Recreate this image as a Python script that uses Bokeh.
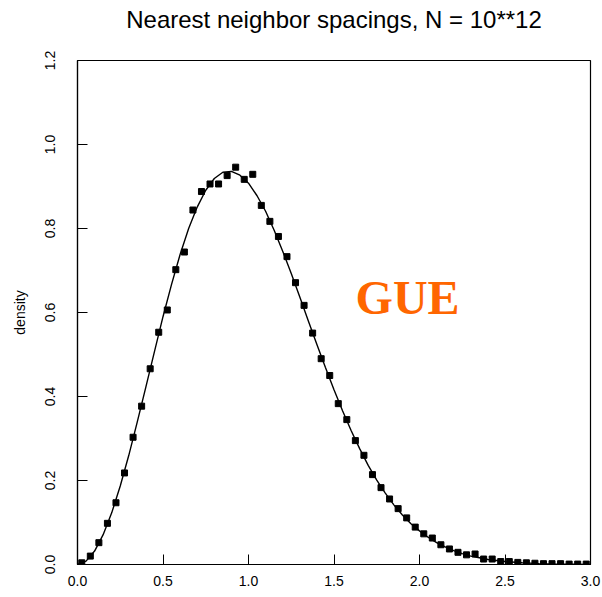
from bokeh.plotting import figure
from bokeh.models import Range1d, FixedTicker, PrintfTickFormatter, Label, LinearAxis
from bokeh.embed import file_html
from bokeh.resources import INLINE

# Curve (GUE spacing density)
curve_x = [0.00, 0.05, 0.10, 0.15, 0.20, 0.25, 0.30, 0.35, 0.40, 0.45,
           0.50, 0.55, 0.60, 0.65, 0.70, 0.75, 0.80, 0.85, 0.90, 0.95,
           1.00, 1.05, 1.10, 1.15, 1.20, 1.25, 1.30, 1.35, 1.40, 1.45,
           1.50, 1.55, 1.60, 1.65, 1.70, 1.75, 1.80, 1.85, 1.90, 1.95,
           2.00, 2.05, 2.10, 2.15, 2.20, 2.25, 2.30, 2.35, 2.40, 2.50,
           2.60, 2.70, 2.80, 2.90, 3.00]
curve_y = [0.000, 0.008, 0.032, 0.071, 0.123, 0.187, 0.260, 0.340, 0.423, 0.507,
           0.590, 0.667, 0.738, 0.800, 0.851, 0.891, 0.919, 0.934, 0.936, 0.927,
           0.908, 0.878, 0.841, 0.796, 0.746, 0.693, 0.637, 0.580, 0.524, 0.469,
           0.416, 0.366, 0.319, 0.276, 0.236, 0.201, 0.170, 0.142, 0.118, 0.097,
           0.080, 0.065, 0.052, 0.042, 0.033, 0.026, 0.020, 0.016, 0.012, 0.007,
           0.004, 0.002, 0.001, 0.001, 0.000]

# Empirical histogram points (bin centres and densities)
pts_x = [0.025, 0.075, 0.125, 0.175, 0.225, 0.275, 0.325, 0.375, 0.425, 0.475,
         0.525, 0.575, 0.625, 0.675, 0.725, 0.775, 0.825, 0.875, 0.925, 0.975,
         1.025, 1.075, 1.125, 1.175, 1.225, 1.275, 1.325, 1.375, 1.425, 1.475,
         1.525, 1.575, 1.625, 1.675, 1.725, 1.775, 1.825, 1.875, 1.925, 1.975,
         2.025, 2.075, 2.125, 2.175, 2.225, 2.275, 2.325, 2.375, 2.425, 2.475,
         2.525, 2.575, 2.625, 2.675, 2.725, 2.775, 2.825, 2.875, 2.925, 2.975]
pts_y = [0.004, 0.020, 0.052, 0.098, 0.147, 0.218, 0.303, 0.377, 0.466, 0.553,
         0.606, 0.702, 0.744, 0.844, 0.888, 0.906, 0.906, 0.926, 0.946, 0.917,
         0.929, 0.855, 0.817, 0.781, 0.733, 0.671, 0.617, 0.551, 0.490, 0.450,
         0.383, 0.345, 0.295, 0.260, 0.214, 0.183, 0.156, 0.133, 0.111, 0.089,
         0.073, 0.063, 0.047, 0.037, 0.029, 0.023, 0.025, 0.013, 0.013, 0.007,
         0.007, 0.005, 0.004, 0.003, 0.002, 0.002, 0.002, 0.001, 0.001, 0.001]

x_ticks = [0.0, 0.5, 1.0, 1.5, 2.0, 2.5, 3.0]
y_ticks = [0.0, 0.2, 0.4, 0.6, 0.8, 1.0, 1.2]

TITLE = "Nearest neighbor spacings, N = 10**12"

p = figure(width=602, height=597, output_backend="svg", toolbar_location=None,
           x_range=Range1d(0, 3), y_range=Range1d(0, 1.2))
p.min_border_left = 77
p.min_border_right = 12
p.min_border_top = 60
p.min_border_bottom = 33
p.background_fill_color = "white"
p.border_fill_color = "white"
p.outline_line_color = "black"
p.outline_line_width = 1.2
p.xgrid.visible = False
p.ygrid.visible = False

for ax, ticks in ((p.xaxis, x_ticks), (p.yaxis, y_ticks)):
    ax.ticker = FixedTicker(ticks=ticks)
    ax.formatter = PrintfTickFormatter(format="%.1f")
    ax.major_tick_in = 10
    ax.major_tick_out = 0
    ax.minor_tick_in = 0
    ax.minor_tick_out = 0
    ax.axis_line_color = "black"
    ax.axis_line_width = 1.2
    ax.major_tick_line_color = "black"
    ax.major_label_text_font = "Liberation Sans"
    ax.major_label_text_font_size = "14px"
    ax.major_label_text_color = "black"

p.xaxis.major_label_standoff = 11
p.yaxis.major_label_orientation = "vertical"
p.yaxis.major_label_standoff = 23
p.yaxis.axis_label = "density"
p.yaxis.axis_label_text_font = "Liberation Sans"
p.yaxis.axis_label_text_font_size = "14px"
p.yaxis.axis_label_text_font_style = "normal"
p.yaxis.axis_label_text_color = "black"
p.yaxis.axis_label_standoff = 14

# title drawn as the label of a tick-less axis above the frame
top_ax = LinearAxis(axis_label=TITLE, ticker=FixedTicker(ticks=[]),
                    axis_line_color=None, major_tick_line_color=None,
                    minor_tick_line_color=None, major_label_text_font_size="0px",
                    axis_label_text_font="Liberation Sans",
                    axis_label_text_font_size="24px",
                    axis_label_text_font_style="normal",
                    axis_label_text_color="black",
                    axis_label_standoff=28)
p.add_layout(top_ax, "above")

p.line(curve_x, curve_y, line_color="black", line_width=1.4)
p.scatter(pts_x, pts_y, marker="square", size=6, fill_color="black", line_color="black")

p.add_layout(Label(x=1.626, y=0.635, text="GUE", text_font="Liberation Serif",
                   text_font_size="48px", text_font_style="bold", text_color="#ff6600",
                   text_align="left", text_baseline="alphabetic"))

open("out.html", "w").write(file_html(p, INLINE))
